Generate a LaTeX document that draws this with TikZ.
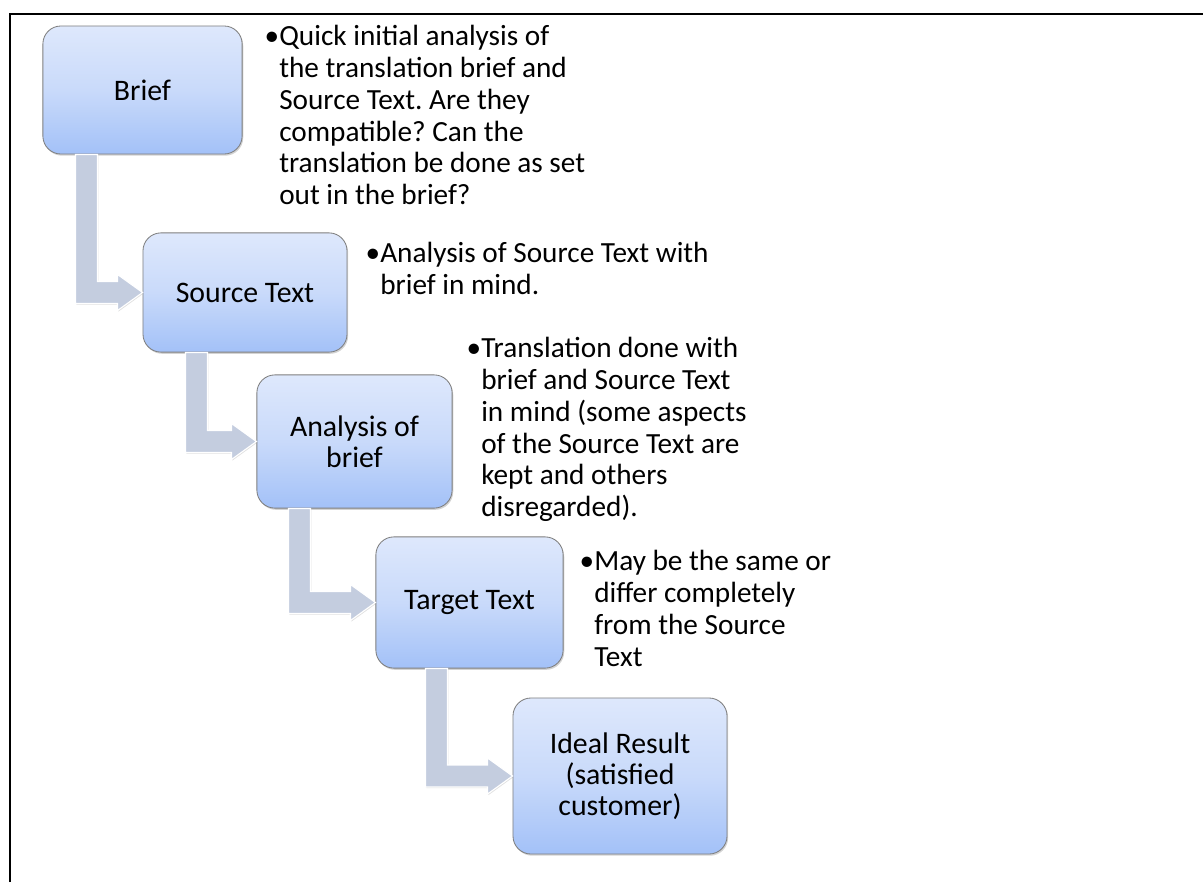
\documentclass[tikz,border=0pt]{standalone}
\usepackage{fontspec}
\setmainfont{Carlito}
\frenchspacing
\usetikzlibrary{calc,shadows}
\definecolor{boxtop}{HTML}{DEE8FC}
\definecolor{boxmid}{HTML}{C9DAFA}
\definecolor{boxbot}{HTML}{A3C1F8}
\definecolor{boxline}{HTML}{7F7F7F}
\definecolor{arrfill}{HTML}{C4CDDF}
\newcommand\bul{\rule{0pt}{17pt}\llap{•}}
\tikzset{
  stepbox/.style={draw=boxline, line width=0.6pt, rounded corners=0.45cm,
    top color=boxtop, bottom color=boxbot, middle color=boxmid,
    align=center, inner sep=2pt, font=\fontsize{21.2}{22}\selectfont,
    drop shadow={opacity=0.35, shadow xshift=0.8pt, shadow yshift=-1.2pt}},
  note/.style={anchor=north west, align=left, inner sep=0pt,
    font=\fontsize{20.8}{22.7}\selectfont},
  bentarrow/.style={fill=arrfill, draw=white, line width=0.8pt,
    drop shadow={opacity=0.25, shadow xshift=0.6pt, shadow yshift=-0.8pt}},
}

\begin{document}
\begin{tikzpicture}[x=0.025cm, y=-0.025cm]
  \useasboundingbox (0,0) rectangle (1203,882);
  \draw[line width=2.1pt] (10,882) -- (10,14) -- (1203,14);

  \node[stepbox, minimum width=4.98cm, minimum height=3.2cm]  (brief)    at (142.5,90)  {Brief};
  \node[stepbox, minimum width=5.1cm,  minimum height=2.98cm] (source)   at (245,292.5) {Source Text};
  \node[stepbox, minimum width=4.88cm, minimum height=3.33cm] (analysis) at (354.5,441.5) {Analysis of\\brief};
  \node[stepbox, minimum width=4.68cm, minimum height=3.28cm] (target)   at (469.5,602.5) {Target Text};
  \node[stepbox, minimum width=5.35cm, minimum height=3.9cm]  (ideal)    at (620,776) {Ideal Result\\(satisfied\\customer)};

  \foreach \a/\b/\o in {brief/source/44, source/analysis/54, analysis/target/43, target/ideal/61}{
    \coordinate (s) at ($(\a.south west)+(\o,0)$);
    \filldraw[bentarrow] ($(s)+(-11,0)$) |- ($(\b.west)+(-25,11)$) -- ++(0,7) -- (\b.west)
      -- ++(-25,-18) -- ++(0,7) -| ($(s)+(11,0)$) -- cycle;
  }

  \node[note] (n1) at (279,21.1) {\bul Quick initial analysis of\\the translation brief and\\Source Text. Are they\\compatible? Can the\\translation be done as set\\out in the brief?};
  \node[note] (n2) at (380,238.1) {\bul Analysis of Source Text with\\brief in mind.};
  \node[note] (n3) at (481,333.1) {\bul Translation done with\\brief and Source Text\\in mind (some aspects\\of the Source Text are\\kept and others\\disregarded).};
  \node[note] (n4) at (594,546.1) {\bul May be the same or\\differ completely\\from the Source\\Text};
\end{tikzpicture}
\end{document}
